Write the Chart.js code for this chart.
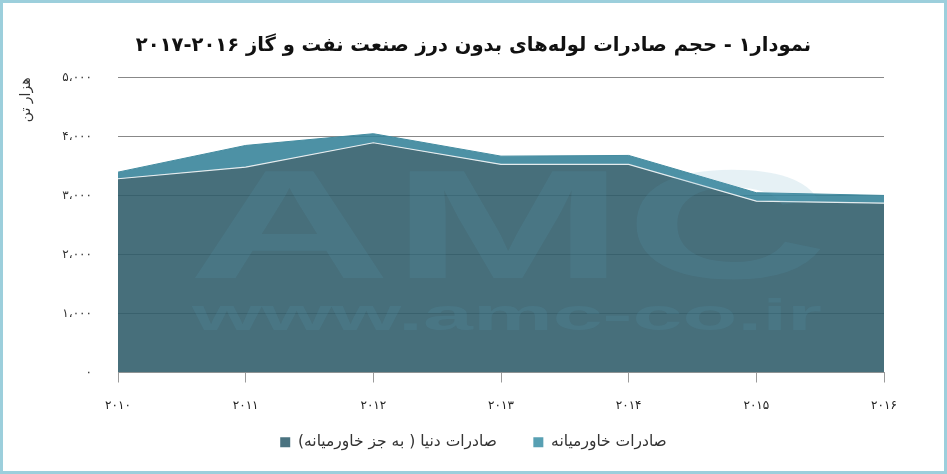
<!DOCTYPE html>
<html>
<head>
<meta charset="utf-8">
<script src="https://cdn.jsdelivr.net/npm/chart.js@4.4.1/dist/chart.umd.min.js"></script>
<style>
html,body{margin:0;padding:0;background:#fff;}
#wrap{width:947px;height:474px;position:relative;}
</style>
</head>
<body>
<div id="wrap"><canvas id="c" width="947" height="474"></canvas></div>
<script>
const titleText = 'نمودار۱ - حجم صادرات لوله‌های بدون درز صنعت نفت و گاز ۲۰۱۶-۲۰۱۷';
const yAxisTitle = 'هزار تن';
const years = ['2010','2011','2012','2013','2014','2015','2016'];
const worldLabel = 'صادرات دنیا ( به جز خاورمیانه)';
const meLabel = 'صادرات خاورمیانه';
const worldExports = [3283, 3480, 3893, 3525, 3525, 2903, 2869];
const middleEastExports = [112, 367, 153, 141, 153, 143, 131];
const yTicks = [0, 1000, 2000, 3000, 4000, 5000];

const faDigits = '۰۱۲۳۴۵۶۷۸۹';
function toFa(s){ return String(s).replace(/\d/g, d => faDigits[+d]); }
function fmtFa(v){
  const s = String(v).replace(/\B(?=(\d{3})+(?!\d))/g, '،');
  return toFa(s);
}
const FONT = "'DejaVu Sans', sans-serif";

const framePlugin = {
  id: 'frame',
  beforeDraw(chart){
    const ctx = chart.ctx;
    ctx.save();
    ctx.fillStyle = '#fff';
    ctx.fillRect(0,0,chart.width,chart.height);
    ctx.restore();
  },
  afterDraw(chart){
    const ctx = chart.ctx;
    ctx.save();
    ctx.strokeStyle = '#9ccfdc';
    ctx.lineWidth = 3;
    ctx.strokeRect(1.5,1.5,chart.width-3,chart.height-3);
    ctx.restore();
  }
};

const watermarkPlugin = {
  id: 'watermark',
  afterDatasetsDraw(chart){
    const ctx = chart.ctx;
    const col = 'rgba(90,160,185,0.15)';
    ctx.save();
    ctx.fillStyle = col;
    ctx.textBaseline = 'alphabetic';
    ctx.textAlign = 'left';
    ctx.font = "bold 155px 'Liberation Sans', sans-serif";
    const w = ctx.measureText('AMC').width;
    ctx.translate(188, 278);
    ctx.scale(640 / w, 1);
    ctx.fillText('AMC', 0, 0);
    ctx.restore();
    ctx.save();
    ctx.fillStyle = col;
    ctx.font = "bold 44px 'Liberation Sans', sans-serif";
    const u = 'www.amc-co.ir';
    const uw = ctx.measureText(u).width;
    ctx.translate(192, 318);
    ctx.scale(630 / uw, 1);
    ctx.fillText(u, 0, 0);
    ctx.restore();
  }
};

new Chart(document.getElementById('c'), {
  type: 'line',
  data: {
    labels: years,
    datasets: [
      {
        label: worldLabel,
        data: worldExports,
        fill: 'origin',
        backgroundColor: 'rgba(46,91,105,0.88)',
        borderColor: 'rgba(235,240,242,0.95)',
        borderWidth: 1.2,
        pointRadius: 0,
        tension: 0
      },
      {
        label: meLabel,
        data: middleEastExports,
        fill: '-1',
        backgroundColor: 'rgba(52,130,152,0.88)',
        borderColor: 'rgba(68,140,160,1)',
        borderWidth: 1,
        pointRadius: 0,
        tension: 0
      }
    ]
  },
  options: {
    responsive: false,
    animation: false,
    devicePixelRatio: 1,
    layout: { padding: { left: 0, right: 0, top: 0, bottom: 14 } },
    plugins: {
      title: {
        display: true,
        text: titleText,
        color: '#111',
        font: { family: FONT, size: 19.5, weight: 'bold' },
        padding: { top: 34, bottom: 20 }
      },
      legend: {
        display: true,
        position: 'bottom',
        rtl: false,
        textDirection: 'rtl',
        labels: {
          color: '#333',
          font: { family: FONT, size: 15.5 },
          boxWidth: 10,
          boxHeight: 10,
          padding: 21,
          generateLabels(chart){
            return chart.data.datasets.map((ds, i) => ({
              text: (i === 0 ? '\u2002\u2002' : '') + ds.label,
              fillStyle: i === 0 ? '#4a7380' : '#58a0b3',
              strokeStyle: i === 0 ? '#4a7380' : '#58a0b3',
              lineWidth: 0,
              hidden: false,
              datasetIndex: i,
              fontColor: '#333'
            }));
          }
        }
      },
      tooltip: { enabled: false }
    },
    scales: {
      x: {
        offset: false,
        afterFit(scale){ scale.height = 41; },
        grid: { drawOnChartArea: false, drawTicks: true, tickLength: 10, color: '#9a9a9a' },
        border: { display: true, color: '#9a9a9a', width: 1 },
        ticks: {
          color: '#222',
          font: { family: FONT, size: 12 },
          padding: 16,
          maxRotation: 0,
          callback(v){ return toFa(this.getLabelForValue(v)); }
        }
      },
      y: {
        stacked: true,
        min: 0,
        max: 5000,
        afterBuildTicks(scale){ scale.ticks = yTicks.map(v => ({ value: v })); },
        afterFit(scale){ scale.width = 118; },
        grid: { drawTicks: false, color: '#888', lineWidth: 1 },
        border: { display: false },
        title: {
          display: true,
          text: yAxisTitle,
          align: 'end',
          color: '#333',
          font: { family: FONT, size: 14 },
          padding: { top: 18, bottom: 0 }
        },
        ticks: {
          color: '#333',
          font: { family: FONT, size: 12 },
          padding: 26,
          callback(v){ return fmtFa(v); }
        }
      },
      yRight: {
        type: 'linear',
        position: 'right',
        display: true,
        afterFit(scale){ scale.width = 63; },
        grid: { drawOnChartArea: false, drawTicks: false },
        border: { display: false },
        ticks: { display: false }
      }
    }
  },
  plugins: [framePlugin, watermarkPlugin]
});
</script>
</body>
</html>
